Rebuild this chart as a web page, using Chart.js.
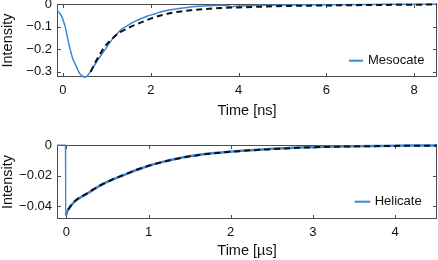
<!DOCTYPE html>
<html><head><meta charset="utf-8">
<script src="https://cdn.jsdelivr.net/npm/chart.js@4.4.1/dist/chart.umd.min.js"></script>
<style>
html,body{margin:0;padding:0;background:#fff;width:438px;height:260px;overflow:hidden}
.box{position:absolute;left:0;width:438px;height:130px}
</style></head><body>
<div class="box" style="top:0"><canvas id="c1" width="438" height="130"></canvas></div>
<div class="box" style="top:130px"><canvas id="c2" width="438" height="130"></canvas></div>
<script>
// ---- Data: top panel (Mesocate, time in ns) ----
const mesoTime = [-0.13,-0.08,-0.03,0,0.05,0.11,0.17,0.22,0.27,0.33,0.38,0.44,0.49,0.53,0.57,0.64,0.72,0.82,0.95,1.05,1.14,1.24,1.33,1.45,1.55,1.65,1.8,1.93,2.1,2.24,2.5,2.88,3.2,3.6,3.75,3.85,4.0,4.4,5.0,6.0,7.0,8.0,8.52];
const mesoData = [-0.030,-0.040,-0.055,-0.070,-0.100,-0.155,-0.205,-0.240,-0.262,-0.288,-0.307,-0.318,-0.324,-0.322,-0.314,-0.295,-0.270,-0.240,-0.204,-0.175,-0.152,-0.130,-0.112,-0.098,-0.086,-0.076,-0.063,-0.053,-0.043,-0.034,-0.024,-0.014,-0.009,-0.005,-0.008,-0.012,-0.009,-0.006,-0.004,-0.003,-0.002,-0.001,-0.001];
const mesoFitTime = [0.63,0.72,0.82,0.95,1.06,1.17,1.28,1.40,1.55,1.7,1.9,2.08,2.3,2.5,2.9,3.26,3.6,4.0,4.5,5.15,6,7,8,8.52];
const mesoFit = [-0.300,-0.265,-0.230,-0.189,-0.165,-0.145,-0.128,-0.115,-0.100,-0.088,-0.072,-0.059,-0.047,-0.038,-0.028,-0.022,-0.018,-0.015,-0.012,-0.0085,-0.0065,-0.0045,-0.003,-0.0025];
const topXTicks = [0,2,4,6,8];
const topYTicks = [0,-0.1,-0.2,-0.3];

// ---- Data: bottom panel (Helicate, time in µs) ----
const heliPreTime = [-0.115,-0.012,-0.008];
const heliPreData = [0,0,-0.046];
const heliTime = [-0.008,0.0,0.02,0.1,0.26,0.41,0.55,0.68,0.88,1.1,1.38,1.62,1.86,2.1,2.43,2.84,3.3,3.8,4.2,4.51];
const heliData = [-0.046,-0.045,-0.0424,-0.037,-0.0315,-0.0265,-0.0228,-0.0200,-0.0158,-0.0120,-0.0085,-0.0064,-0.0050,-0.0039,-0.0028,-0.0017,-0.0010,-0.0006,-0.0004,-0.0003];
const heliFitTime = [0.02,0.1,0.26,0.41,0.55,0.68,0.88,1.1,1.38,1.62,1.86,2.1,2.43,2.84,3.3,3.8,4.2,4.51];
const heliFit = [-0.0422,-0.0368,-0.0313,-0.0264,-0.0228,-0.0199,-0.0157,-0.0121,-0.0086,-0.0065,-0.0051,-0.0040,-0.0029,-0.0018,-0.0011,-0.0007,-0.0005,-0.0004];
const botXTicks = [0,1,2,3,4];
const botYTicks = [0,-0.02,-0.04];

const BLUE = 'rgb(62,134,214)';
const FONT = "'Liberation Sans', Arial, Helvetica, sans-serif";
const FRAME = '#4a4a4a';

function pts(xs, ys){ return xs.map((x,i)=>({x:x,y:ys[i]})); }
function fmt(v){ const s = String(Math.round(v*1000)/1000); return s.replace('-', '\u2212'); }

const framePlugin = {
  id:'frame',
  beforeDatasetsDraw(chart){
    const {ctx, chartArea:a, scales} = chart;
    ctx.save();
    ctx.strokeStyle = FRAME; ctx.lineWidth = 1;
    ctx.strokeRect(Math.round(a.left)+0.5, Math.round(a.top)+0.5, Math.round(a.right-a.left)-1, Math.round(a.bottom-a.top)-1);
    ctx.beginPath();
    const L = 4;
    scales.x.ticks.forEach(t=>{
      const px = Math.round(scales.x.getPixelForValue(t.value))+0.5;
      ctx.moveTo(px, a.bottom); ctx.lineTo(px, a.bottom-L);
      ctx.moveTo(px, a.top); ctx.lineTo(px, a.top+L);
    });
    scales.y.ticks.forEach(t=>{
      const py = Math.round(scales.y.getPixelForValue(t.value))+0.5;
      ctx.moveTo(a.left, py); ctx.lineTo(a.left+L, py);
      ctx.moveTo(a.right, py); ctx.lineTo(a.right-L, py);
    });
    ctx.stroke();
    ctx.restore();
  },
  afterDraw(chart, args, opts){
    const {ctx, chartArea:a} = chart;
    const ds = chart.data.datasets[0];
    ctx.save();
    ctx.strokeStyle = ds.borderColor; ctx.lineWidth = 2;
    const y = a.bottom - opts.dy;
    ctx.beginPath(); ctx.moveTo(a.right - opts.x1, y); ctx.lineTo(a.right - opts.x2, y); ctx.stroke();
    ctx.fillStyle = '#111'; ctx.font = '13px ' + FONT; ctx.textBaseline = 'middle'; ctx.textAlign = 'left';
    ctx.fillText(ds.label, a.right - opts.tx, y);
    ctx.restore();
  }
};

function makeChart(id, cfg){
  const datasets = [
    {label:cfg.label, data:pts(cfg.t, cfg.d), borderColor:BLUE, borderWidth:cfg.bw, pointRadius:0, cubicInterpolationMode:'monotone', clip:3, fill:false, order:2},
    {label:'fit', data:pts(cfg.ft, cfg.fd), borderColor:'#111', borderWidth:2, borderDash:[6,4], pointRadius:0, cubicInterpolationMode:'monotone', clip:3, fill:false, order:1}
  ];
  if (cfg.pt) datasets.push({label:'pre', data:pts(cfg.pt, cfg.pd), borderColor:BLUE, borderWidth:1.2, pointRadius:0, tension:0, clip:3, fill:false, order:3});
  return new Chart(document.getElementById(id), {
    type:'line',
    data:{datasets:datasets},
    options:{
      responsive:false, animation:false, devicePixelRatio:1,
      layout:{padding:{top:cfg.padTop, right:1, left:0, bottom:0}},
      plugins:{legend:{display:false}, tooltip:{enabled:false}, frame:cfg.legend},
      scales:{
        x:{type:'linear', min:cfg.xmin, max:cfg.xmax,
          grid:{display:false, drawTicks:false}, border:{display:false},
          afterBuildTicks(s){ s.ticks = cfg.xt.map(v=>({value:v})); },
          afterFit(s){ s.height = cfg.xh; s.paddingLeft = 0; s.paddingRight = 0; },
          ticks:{padding:6, color:'#111', font:{family:FONT, size:13}, maxRotation:0, callback:v=>fmt(v)},
          title:{display:true, text:cfg.xtitle, color:'#111', font:{family:FONT, size:14.5, lineHeight:1.2}, padding:{top:0,bottom:cfg.titlePad}}
        },
        y:{type:'linear', min:cfg.ymin, max:cfg.ymax,
          grid:{display:false, drawTicks:false}, border:{display:false},
          afterBuildTicks(s){ s.ticks = cfg.yt.map(v=>({value:v})); },
          afterFit(s){ s.width = 57; s.paddingTop = 0; s.paddingBottom = 0; },
          ticks:{padding:5, color:'#111', font:{family:FONT, size:13}, callback:v=>fmt(v)},
          title:{display:true, text:'Intensity', color:'#111', font:{family:FONT, size:14.5, lineHeight:1.1}, padding:{top:0,bottom:0}}
        }
      }
    },
    plugins:[framePlugin]
  });
}

makeChart('c1', {label:'Mesocate', t:mesoTime, d:mesoData, ft:mesoFitTime, fd:mesoFit, bw:1.5,
  xmin:-0.136, xmax:8.52, ymin:-0.323, ymax:0, xt:topXTicks, yt:topYTicks,
  padTop:4, xh:53, xtitle:'Time [ns]', titlePad:10,
  legend:{dy:16.3, x1:88, x2:74, tx:69}});
makeChart('c2', {label:'Helicate', t:heliTime, d:heliData, ft:heliFitTime, fd:heliFit, bw:2.5,
  pt:heliPreTime, pd:heliPreData,
  xmin:-0.114, xmax:4.51, ymin:-0.0483, ymax:0, xt:botXTicks, yt:botYTicks,
  padTop:15, xh:41, xtitle:'Time [\u00b5s]', titlePad:0,
  legend:{dy:17.3, x1:82.3, x2:66.7, tx:62.3}});
</script>
</body></html>
